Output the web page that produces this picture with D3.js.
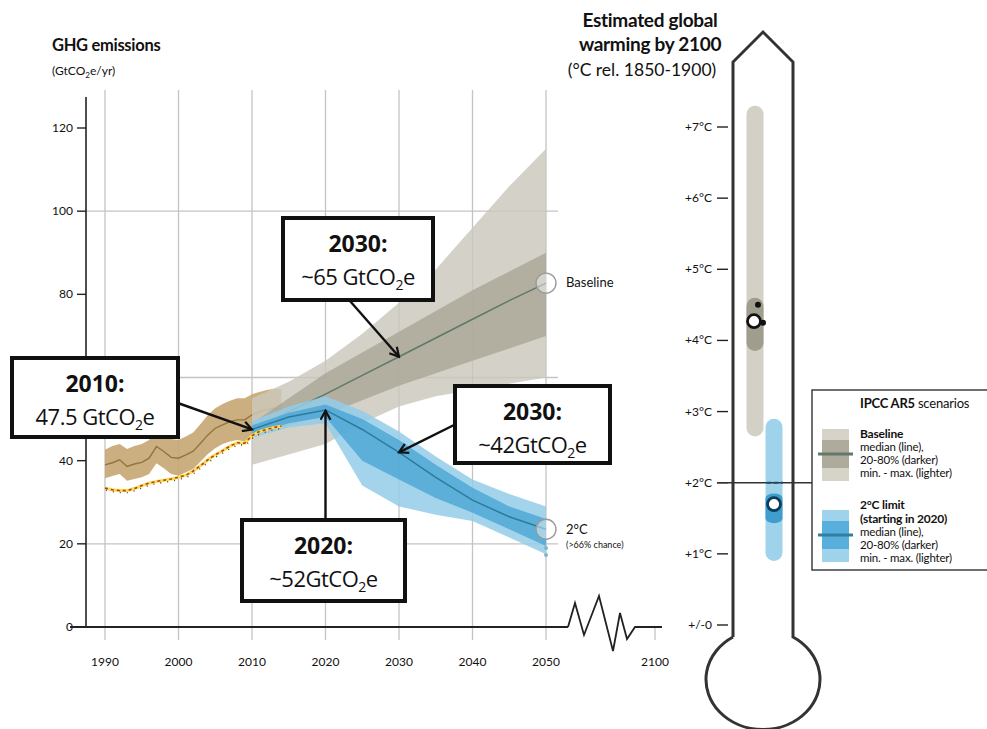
<!DOCTYPE html>
<html><head><meta charset="utf-8">
<script src="https://cdn.jsdelivr.net/npm/d3@7"></script>
<style>
html,body{margin:0;padding:0;background:#fff;}
svg{display:block;}
text{font-family:"Liberation Sans Narrow","Lato","Open Sans",sans-serif;fill:#111;}
.bx{font-family:"Open Sans","Lato",sans-serif;}
</style></head><body>
<svg id="c" width="987" height="729"></svg>
<script>
// ---------- DATA ----------
const histYears = [1990,1991,1992,1993,1994,1995,1996,1997,1998,1999,2000,2001,2002,2003,2004,2005,2006,2007,2008,2009,2010,2011,2012,2013,2014];
const histMedian = [39.0,39.5,40.2,38.6,39.2,39.6,40.6,43.4,42.2,40.8,40.6,41.4,42.3,44.2,46.2,47.8,48.6,49.4,49.8,49.8,51.0,51.8,52.2,52.6,52.4];
const histUpper  = [42.6,43.5,44.0,42.8,43.5,44.0,45.0,47.8,46.6,45.2,45.0,45.8,46.8,48.8,51.0,52.6,53.6,54.4,55.0,55.0,56.0,56.5,57.0,57.3,57.2];
const histLower  = [35.8,36.3,36.8,35.2,35.6,36.0,36.8,39.4,38.2,36.8,36.4,37.2,38.0,39.8,41.6,43.0,44.0,44.6,45.0,44.6,45.8,46.8,47.4,48.0,48.2];
const histInventory = [33.4,33.0,32.8,32.8,33.3,34.0,34.6,35.0,35.3,35.6,36.0,36.5,37.5,38.8,40.2,41.4,42.4,43.5,44.3,44.2,46.0,47.0,47.5,48.0,48.3];

const scenYears = [2010,2015,2020,2025,2030,2035,2040,2045,2050];
const baseMedian  = [47.5,51.8,56.0,60.5,65.0,69.5,74.0,78.5,82.7];
const baseDarkLo  = [46.0,48.5,51.0,54.5,58.0,61.0,64.0,67.0,70.0];
const baseDarkHi  = [49.0,55.0,61.0,66.0,71.0,76.0,81.0,85.5,90.0];
const baseLightLo = [39.0,41.5,44.0,49.0,53.0,55.5,57.0,58.5,60.0];
const baseLightHi = [55.0,59.0,64.0,70.5,78.0,86.0,96.0,106.0,115.0];

const lowMedian  = [47.5,50.5,52.2,47.5,42.0,36.0,30.5,26.5,23.5];
const lowDarkLo  = [46.5,49.0,50.5,40.0,35.5,31.0,27.5,23.5,19.5];
const lowDarkHi  = [48.5,51.5,53.5,50.0,45.0,39.0,33.5,29.0,26.0];
const lowLightLo = [45.5,48.0,49.0,34.0,29.0,27.0,25.5,21.5,17.5];
const lowLightHi = [49.5,53.0,55.5,52.0,47.0,41.0,35.5,32.0,29.0];
const lowOutliers = [19.0,17.3];

const yTicks = [0,20,40,60,80,100,120];
const yTickLabels = ["0","20","40","","80","100","120"]; // "60" is hidden behind the 2010 box in the original
const yGrid = [20,60,100];
const xTicks = [1990,2000,2010,2020,2030,2040,2050];

const annYears  = [2010,2030,2030,2020];
const annValues = [47.5,65,42,52];
const annTitles = ["2010:","2030:","2030:","2020:"];
const annPre    = ["47.5 GtCO","~65 GtCO","~42GtCO","~52GtCO"];

const tempTicks  = [7,6,5,4,3,2,1,0];
const tempLabels = ["+7°C","+6°C","+5°C","+4°C","+3°C","+2°C","+1°C","+/-0"];
const thermoSeries = ["Baseline","2°C limit"];
const thermoMin    = [2.65,0.9];
const thermoP20    = [3.85,1.43];
const thermoMedian = [4.27,1.70];
const thermoP80    = [4.6,1.85];
const thermoMax    = [7.3,2.9];
const baseOtherEst = [4.5,4.25];

// ---------- SETUP ----------
const svg = d3.select("#c");
const x = d3.scaleLinear().domain([1990,2050]).range([105,546]);
const y = d3.scaleLinear().domain([0,120]).range([627,128]);
const xBreak = 655; // position of 2100 after broken axis
const T = d3.scaleLinear().domain([0,7]).range([625,127]);

const C = {
  gLight:"#cbc8bc", gDark:"#a7a394", gLine:"#5f7868",
  bLight:"#93cde9", bDark:"#4aa5d4", bLine:"#2b7c9c",
  brown:"#c6a672", brownLine:"#93743f"
};

// titles
svg.append("text").attr("x",52).attr("y",51).attr("font-size",16.5).attr("font-weight",700).attr("letter-spacing",-0.3).text("GHG emissions");
const sub = svg.append("text").attr("x",52).attr("y",75).attr("font-size",12);
sub.append("tspan").text("(GtCO");
sub.append("tspan").attr("font-size",8).attr("dy",3).text("2");
sub.append("tspan").attr("dy",-3).text("e/yr)");

// grid
svg.append("g").selectAll("line").data(xTicks).join("line")
  .attr("x1",d=>x(d)).attr("x2",d=>x(d)).attr("y1",90).attr("y2",640)
  .attr("stroke","#c4c4c4").attr("stroke-width",1.3);
svg.append("line").attr("x1",xBreak).attr("x2",xBreak).attr("y1",y(0)).attr("y2",640)
  .attr("stroke","#c4c4c4").attr("stroke-width",1.3);
svg.append("g").selectAll("line").data(yGrid).join("line")
  .attr("x1",86).attr("x2",558).attr("y1",d=>y(d)).attr("y2",d=>y(d))
  .attr("stroke","#c4c4c4").attr("stroke-width",1.3);

// y axis
svg.append("line").attr("x1",86).attr("x2",86).attr("y1",97).attr("y2",y(0)).attr("stroke","#222").attr("stroke-width",1.6);
svg.append("g").selectAll("line").data(yTicks).join("line")
  .attr("x1",77).attr("x2",86).attr("y1",d=>y(d)).attr("y2",d=>y(d)).attr("stroke","#222").attr("stroke-width",1.4);
svg.append("g").selectAll("text").data(yTicks.filter((d,i)=>yTickLabels[i]!=="")).join("text")
  .attr("x",73).attr("y",d=>y(d)+4).attr("text-anchor","end").attr("font-size",12).text(d=>yTickLabels[yTicks.indexOf(d)]);

// x labels
svg.append("g").selectAll("text").data(xTicks).join("text")
  .attr("x",d=>x(d)).attr("y",666).attr("text-anchor","middle").attr("font-size",12).text(d=>d);
svg.append("text").attr("x",xBreak).attr("y",666).attr("text-anchor","middle").attr("font-size",12).text("2100");

// area helpers
function band(years, lo, hi){
  return d3.area().x((d,i)=>x(years[i])).y0((d,i)=>y(lo[i])).y1((d,i)=>y(hi[i]))(years);
}
function line(years, vals){
  return d3.line().x((d,i)=>x(years[i])).y((d,i)=>y(vals[i]))(years);
}

// historical band
svg.append("path").attr("d",band(histYears,histLower,histUpper)).attr("fill",C.brown).attr("opacity",0.9);
svg.append("path").attr("d",line(histYears,histMedian)).attr("fill","none").attr("stroke",C.brownLine).attr("stroke-width",1.4);

// baseline
svg.append("path").attr("d",band(scenYears,baseLightLo,baseLightHi)).attr("fill",C.gLight).attr("opacity",0.82);
svg.append("path").attr("d",band(scenYears,baseDarkLo,baseDarkHi)).attr("fill",C.gDark).attr("opacity",0.75);
svg.append("path").attr("d",line(scenYears,baseMedian)).attr("fill","none").attr("stroke",C.gLine).attr("stroke-width",1.5);

// 2C
svg.append("path").attr("d",band(scenYears,lowLightLo,lowLightHi)).attr("fill",C.bLight).attr("opacity",0.85);
svg.append("path").attr("d",band(scenYears,lowDarkLo,lowDarkHi)).attr("fill",C.bDark).attr("opacity",0.8);
svg.append("path").attr("d",line(scenYears,lowMedian)).attr("fill","none").attr("stroke",C.bLine).attr("stroke-width",1.5);
svg.append("g").selectAll("circle").data(lowOutliers).join("circle")
  .attr("cx",x(2050)).attr("cy",d=>y(d)).attr("r",2).attr("fill","#7db7cf");

// inventory dotted line
svg.append("path").attr("d",line(histYears,histInventory)).attr("fill","none").attr("stroke","#f3e04a").attr("stroke-width",3);
svg.append("path").attr("d",line(histYears,histInventory)).attr("fill","none").attr("stroke","#c0392b").attr("stroke-width",1.6).attr("stroke-dasharray","3,3");
svg.append("path").attr("d",line(histYears,histInventory)).attr("fill","none").attr("stroke","#5a3a1a").attr("stroke-width",1.4).attr("stroke-dasharray","1,6").attr("transform","translate(1,2)");

// end circles
const ends = [[baseMedian[baseMedian.length-1],"Baseline"],[lowMedian[lowMedian.length-1],"2°C"]];
svg.append("g").selectAll("circle").data(ends).join("circle")
  .attr("cx",x(2050)).attr("cy",d=>y(d[0])).attr("r",10)
  .attr("fill","rgba(255,255,255,0.45)").attr("stroke","#9a9a9a").attr("stroke-width",1.4);
svg.append("text").attr("x",566).attr("y",y(ends[0][0])+4).attr("font-size",13).text("Baseline");
svg.append("text").attr("x",566).attr("y",y(ends[1][0])+5).attr("font-size",13).text("2°C");
svg.append("text").attr("x",566).attr("y",y(ends[1][0])+19).attr("font-size",9).text("(>66% chance)");

// x axis with break
svg.append("line").attr("x1",70).attr("x2",568).attr("y1",y(0)).attr("y2",y(0)).attr("stroke","#222").attr("stroke-width",1.8);
const zz = [[568,0],[575,-24],[584,8],[599,-31],[613,24],[620,-14],[627,12],[635,0],[662,0]];
svg.append("path").attr("d",d3.line().x(d=>d[0]).y(d=>y(0)+d[1])(zz)).attr("fill","none").attr("stroke","#222").attr("stroke-width",1.8).attr("stroke-linejoin","miter");

// arrow marker
const defs = svg.append("defs");
defs.append("marker").attr("id","ah").attr("viewBox","0 0 12 12").attr("refX",10).attr("refY",6)
  .attr("markerWidth",12).attr("markerHeight",12).attr("markerUnits","userSpaceOnUse").attr("orient","auto")
  .append("path").attr("d","M1,1 L10,6 L1,11").attr("fill","none").attr("stroke","#111").attr("stroke-width",2.2);

// annotation boxes
const boxes = [
  {bx:12,by:358,bw:166,bh:79,from:[175,402]},
  {bx:283,by:218,bw:150,bh:82,from:[350,301]},
  {bx:455,by:386,bw:155,bh:77,from:[456,424]},
  {bx:242,by:520,bw:163,bh:81,from:[null,520]}
];
boxes.forEach((b,i)=>{
  const tx = x(annYears[i]), ty = y(annValues[i]);
  const fx = b.from[0]===null ? tx : b.from[0];
  svg.append("line").attr("x1",fx).attr("y1",b.from[1]).attr("x2",tx).attr("y2",ty)
    .attr("stroke","#111").attr("stroke-width",2.4).attr("marker-end","url(#ah)");
  svg.append("rect").attr("x",b.bx).attr("y",b.by).attr("width",b.bw).attr("height",b.bh)
    .attr("fill","#fff").attr("stroke","#111").attr("stroke-width",4);
  const cx = b.bx+b.bw/2;
  svg.append("text").attr("class","bx").attr("x",cx).attr("y",b.by+34).attr("text-anchor","middle")
    .attr("font-size",23).attr("font-weight",700).text(annTitles[i]);
  const t = svg.append("text").attr("class","bx").attr("x",cx).attr("y",b.by+67).attr("text-anchor","middle")
    .attr("font-size",22).attr("letter-spacing",-0.5);
  t.append("tspan").text(annPre[i]);
  t.append("tspan").attr("font-size",14).attr("dy",5).text("2");
  t.append("tspan").attr("dy",-5).text("e");
});

// ---------- THERMOMETER ----------
svg.append("text").attr("x",650).attr("y",27).attr("text-anchor","middle").attr("font-size",19).attr("font-weight",700).attr("letter-spacing",-0.3).text("Estimated global");
svg.append("text").attr("x",650).attr("y",51).attr("text-anchor","middle").attr("font-size",19).attr("font-weight",700).attr("letter-spacing",-0.3).text("warming by 2100");
svg.append("text").attr("x",642).attr("y",76).attr("text-anchor","middle").attr("font-size",17.5).text("(°C rel. 1850-1900)");

svg.append("path").attr("d","M733,637 L733,62 L763,32 L793,62 L793,637 A57,50 0 1 1 733,637")
  .attr("fill","none").attr("stroke","#333").attr("stroke-width",3);

svg.append("g").selectAll("line").data(tempTicks).join("line")
  .attr("x1",717).attr("x2",728).attr("y1",d=>T(d)).attr("y2",d=>T(d)).attr("stroke","#222").attr("stroke-width",1.4);
svg.append("g").selectAll("text").data(tempTicks).join("text")
  .attr("x",712).attr("y",d=>T(d)+4).attr("text-anchor","end").attr("font-size",12).text((d,i)=>tempLabels[i]);

const barX = [755,774], barW = 17;
const lightCols = ["#d3d0c5","#9fd3ec"], darkCols = ["#a09d8d","#3f9ece"], ringCols = ["#111","#0d3b5a"];
thermoSeries.forEach((s,i)=>{
  svg.append("rect").attr("x",barX[i]-barW/2).attr("width",barW).attr("y",T(thermoMax[i])).attr("height",T(thermoMin[i])-T(thermoMax[i]))
    .attr("rx",barW/2).attr("fill",lightCols[i]);
  svg.append("rect").attr("x",barX[i]-barW/2).attr("width",barW).attr("y",T(thermoP80[i])).attr("height",T(thermoP20[i])-T(thermoP80[i]))
    .attr("rx",barW/2).attr("ry",i===0?barW/2:5).attr("fill",darkCols[i]);
});
// +2C line
svg.append("line").attr("x1",717).attr("x2",812).attr("y1",T(2)).attr("y2",T(2)).attr("stroke","#333").attr("stroke-width",1.4);
svg.append("line").attr("x1",767).attr("x2",783).attr("y1",T(2)).attr("y2",T(2)).attr("stroke","#1f4f6b").attr("stroke-width",2).attr("stroke-dasharray","4,3");
// other estimate dots
svg.append("circle").attr("cx",758).attr("cy",T(baseOtherEst[0])).attr("r",3).attr("fill","#111");
svg.append("circle").attr("cx",763).attr("cy",T(baseOtherEst[1])).attr("r",3).attr("fill","#111");
thermoSeries.forEach((s,i)=>{
  svg.append("circle").attr("cx",barX[i]-(i===0?1:0)).attr("cy",T(thermoMedian[i])).attr("r",6.5)
    .attr("fill","#fff").attr("stroke",ringCols[i]).attr("stroke-width",2.8);
});

// legend
svg.append("rect").attr("x",812).attr("y",390).attr("width",185).attr("height",180).attr("fill","none").attr("stroke","#333").attr("stroke-width",1.4);
const lt = svg.append("text").attr("x",860).attr("y",408).attr("font-size",13).attr("letter-spacing",-0.2);
lt.append("tspan").attr("font-weight",700).text("IPCC AR5 ");
lt.append("tspan").attr("font-weight",400).text("scenarios");
function swatch(y0, light, dark, lineC){
  svg.append("rect").attr("x",822).attr("y",y0).attr("width",27).attr("height",52).attr("fill",light);
  svg.append("rect").attr("x",822).attr("y",y0+11).attr("width",27).attr("height",28).attr("fill",dark);
  svg.append("line").attr("x1",818).attr("x2",853).attr("y1",y0+25).attr("y2",y0+25).attr("stroke",lineC).attr("stroke-width",3);
}
swatch(429,"#d6d3c8","#aeab9d","#62786a");
swatch(510,"#9fd3ec","#58afdb","#2f7f9f");
const legLines = [
  ["Baseline",true,438],["median (line),",false,451],["20-80% (darker)",false,464],["min. - max. (lighter)",false,477],
  ["2°C limit",true,509],["(starting in 2020)",true,523],["median (line),",false,536],["20-80% (darker)",false,549],["min. - max. (lighter)",false,562]
];
svg.append("g").selectAll("text").data(legLines).join("text")
  .attr("x",860).attr("y",d=>d[2]).attr("font-size",d=>d[1]?12:11.5).attr("font-weight",d=>d[1]?700:400).attr("letter-spacing",-0.2).text(d=>d[0]);
</script>
</body></html>
